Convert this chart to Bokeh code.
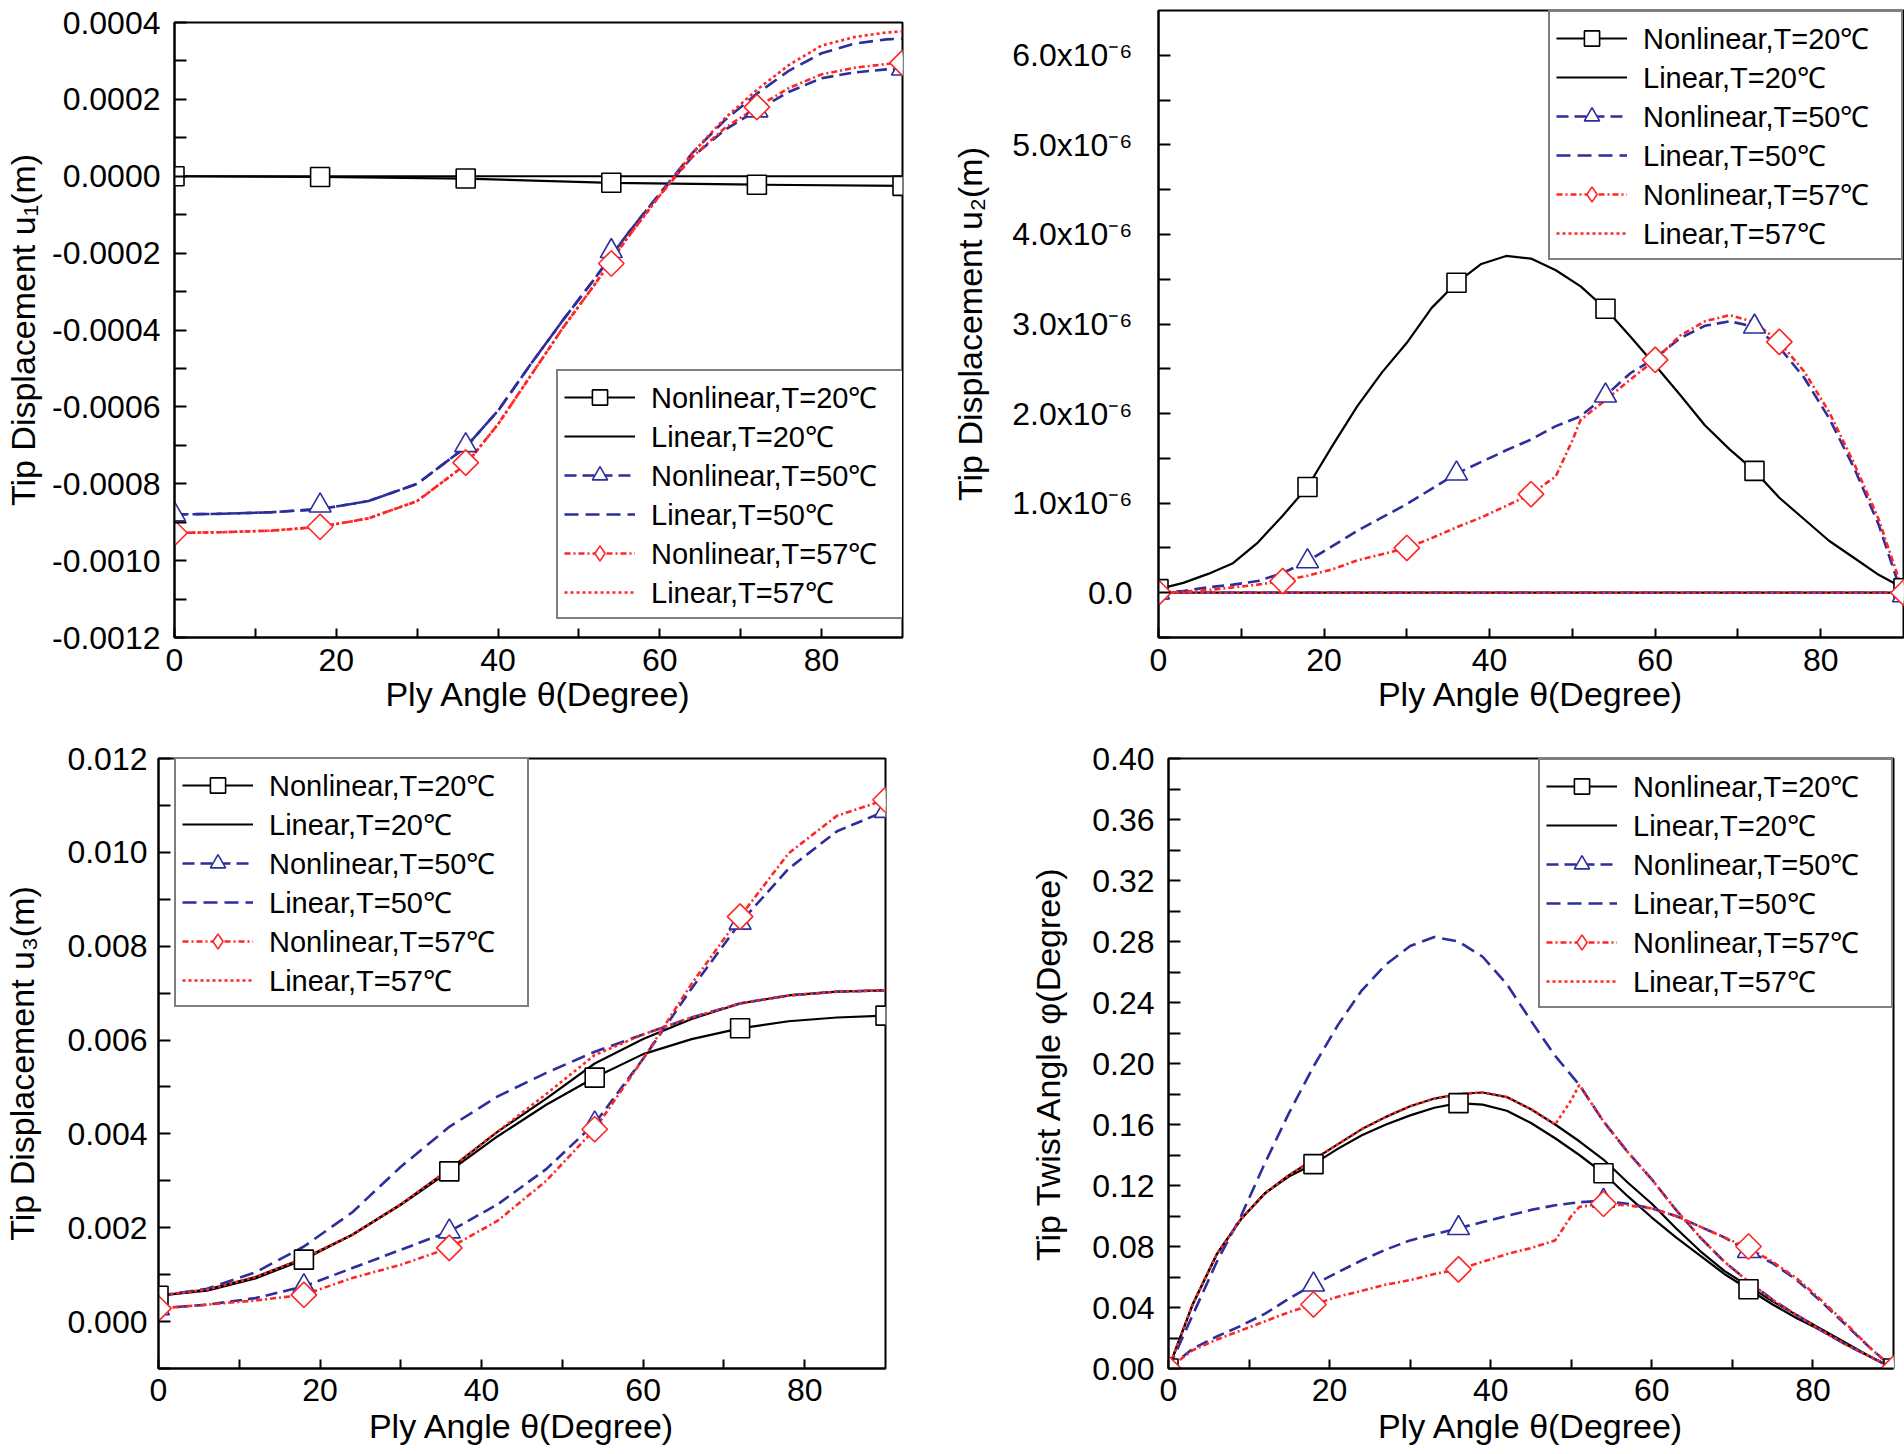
import math
from bokeh.plotting import figure
from bokeh.layouts import row, column
from bokeh.models import (Range1d, FixedTicker, PrintfTickFormatter,
                          CustomJSTickFormatter, Legend, LegendItem)
from bokeh.embed import file_html
from bokeh.resources import INLINE

# ------------------------------------------------------------------ data
series_labels = ["Nonlinear,T=20℃", "Linear,T=20℃", "Nonlinear,T=50℃",
                 "Linear,T=50℃", "Nonlinear,T=57℃", "Linear,T=57℃"]
x_title = "Ply Angle θ(Degree)"
x_ticks = [0, 20, 40, 60, 80]
x_minor_ticks = [10, 30, 50, 70]
theta_markers = [0, 18, 36, 54, 72, 90]
theta_flat = [0, 90]

# Panel 1 : tip displacement u1 (m)
theta_u1 = [0, 6, 12, 18, 24, 30, 36, 40, 44, 48, 52, 56, 60, 64, 68, 72, 76, 80, 84, 88, 90]
u1_linear_20 = [0.0, 0.0]
u1_nonlinear_20 = [0.0, -0.002e-3, -0.006e-3, -0.017e-3, -0.022e-3, -0.025e-3]
u1_linear_50 = [-0.880e-3, -0.878e-3, -0.874e-3, -0.866e-3, -0.845e-3, -0.800e-3, -0.705e-3,
                -0.610e-3, -0.490e-3, -0.375e-3, -0.265e-3, -0.150e-3, -0.045e-3, 0.060e-3,
                0.145e-3, 0.215e-3, 0.275e-3, 0.320e-3, 0.345e-3, 0.356e-3, 0.358e-3]
u1_nonlinear_50 = [-0.880e-3, -0.878e-3, -0.874e-3, -0.866e-3, -0.845e-3, -0.800e-3, -0.705e-3,
                   -0.610e-3, -0.490e-3, -0.375e-3, -0.265e-3, -0.150e-3, -0.045e-3, 0.050e-3,
                   0.120e-3, 0.172e-3, 0.220e-3, 0.255e-3, 0.270e-3, 0.278e-3, 0.280e-3]
u1_linear_57 = [-0.928e-3, -0.926e-3, -0.922e-3, -0.912e-3, -0.890e-3, -0.845e-3, -0.750e-3,
                -0.645e-3, -0.520e-3, -0.395e-3, -0.280e-3, -0.160e-3, -0.050e-3, 0.060e-3,
                0.150e-3, 0.225e-3, 0.290e-3, 0.340e-3, 0.362e-3, 0.374e-3, 0.377e-3]
u1_nonlinear_57 = [-0.928e-3, -0.926e-3, -0.922e-3, -0.912e-3, -0.890e-3, -0.845e-3, -0.750e-3,
                   -0.645e-3, -0.520e-3, -0.395e-3, -0.280e-3, -0.160e-3, -0.050e-3, 0.050e-3,
                   0.125e-3, 0.180e-3, 0.230e-3, 0.265e-3, 0.282e-3, 0.292e-3, 0.295e-3]
u1_marks_20 = [0.0, -0.002e-3, -0.006e-3, -0.017e-3, -0.022e-3, -0.025e-3]
u1_marks_50 = [-0.880e-3, -0.857e-3, -0.700e-3, -0.195e-3, 0.171e-3, 0.280e-3]
u1_marks_57 = [-0.928e-3, -0.912e-3, -0.745e-3, -0.227e-3, 0.180e-3, 0.295e-3]
u1_ticks = [-0.0012, -0.0010, -0.0008, -0.0006, -0.0004, -0.0002, 0.0, 0.0002, 0.0004]
u1_minor = [-0.0011, -0.0009, -0.0007, -0.0005, -0.0003, -0.0001, 0.0001, 0.0003]

# Panel 2 : tip displacement u2 (m)
theta_u2 = [0, 3, 6, 9, 12, 15, 18, 21, 24, 27, 30, 33, 36, 39, 42, 45, 48, 51, 54, 57,
            60, 63, 66, 69, 72, 75, 78, 81, 84, 87, 90]
theta_u2_57 = [0, 3, 6, 9, 12, 15, 18, 21, 24, 27, 30, 33, 36, 39, 42, 45, 48, 50, 51, 54, 57,
               60, 63, 66, 69, 72, 75, 78, 81, 84, 87, 90]
u2_linear_20 = [0.0, 0.0]
u2_linear_50 = [0.0, 0.0]
u2_linear_57 = [0.0, 0.0]
u2_nonlinear_20 = [0.04e-6, 0.11e-6, 0.21e-6, 0.33e-6, 0.56e-6, 0.86e-6, 1.18e-6, 1.64e-6,
                   2.08e-6, 2.46e-6, 2.79e-6, 3.18e-6, 3.46e-6, 3.67e-6, 3.76e-6, 3.73e-6,
                   3.60e-6, 3.42e-6, 3.17e-6, 2.86e-6, 2.54e-6, 2.21e-6, 1.87e-6, 1.60e-6,
                   1.36e-6, 1.06e-6, 0.82e-6, 0.58e-6, 0.39e-6, 0.20e-6, 0.05e-6]
u2_nonlinear_50 = [0.0, 0.02e-6, 0.06e-6, 0.09e-6, 0.13e-6, 0.22e-6, 0.35e-6, 0.52e-6,
                   0.69e-6, 0.84e-6, 0.99e-6, 1.16e-6, 1.33e-6, 1.46e-6, 1.59e-6, 1.71e-6,
                   1.86e-6, 1.97e-6, 2.20e-6, 2.45e-6, 2.62e-6, 2.84e-6, 2.98e-6, 3.03e-6,
                   2.97e-6, 2.74e-6, 2.40e-6, 1.95e-6, 1.40e-6, 0.76e-6, -0.07e-6]
u2_nonlinear_57 = [0.0, 0.01e-6, 0.03e-6, 0.06e-6, 0.09e-6, 0.13e-6, 0.19e-6, 0.26e-6,
                   0.36e-6, 0.43e-6, 0.50e-6, 0.61e-6, 0.73e-6, 0.84e-6, 0.97e-6, 1.10e-6,
                   1.30e-6, 1.70e-6, 1.93e-6, 2.15e-6, 2.38e-6, 2.60e-6, 2.87e-6, 3.03e-6,
                   3.10e-6, 3.02e-6, 2.80e-6, 2.47e-6, 2.02e-6, 1.45e-6, 0.82e-6, 0.0]
theta_u2_marks_57 = [0, 15, 30, 45, 60, 75, 90]
u2_marks_20 = [0.04e-6, 1.18e-6, 3.46e-6, 3.17e-6, 1.36e-6, 0.05e-6]
u2_marks_50 = [0.0, 0.35e-6, 1.33e-6, 2.20e-6, 2.97e-6, -0.03e-6]
u2_marks_57 = [0.0, 0.13e-6, 0.50e-6, 1.10e-6, 2.60e-6, 2.80e-6, 0.0]
u2_ticks = [0.0, 1e-6, 2e-6, 3e-6, 4e-6, 5e-6, 6e-6]
u2_minor = [-0.5e-6, 0.5e-6, 1.5e-6, 2.5e-6, 3.5e-6, 4.5e-6, 5.5e-6]

# Panel 3 : tip displacement u3 (m)
theta_u3 = [0, 6, 12, 18, 24, 30, 36, 42, 48, 54, 60, 66, 72, 78, 84, 90]
u3_linear_20 = [0.55e-3, 0.68e-3, 0.95e-3, 1.35e-3, 1.85e-3, 2.50e-3, 3.25e-3, 4.05e-3,
                4.75e-3, 5.50e-3, 6.02e-3, 6.45e-3, 6.78e-3, 6.95e-3, 7.03e-3, 7.06e-3]
u3_nonlinear_20 = [0.55e-3, 0.66e-3, 0.92e-3, 1.32e-3, 1.85e-3, 2.49e-3, 3.20e-3, 3.95e-3,
                   4.62e-3, 5.20e-3, 5.70e-3, 6.02e-3, 6.25e-3, 6.40e-3, 6.48e-3, 6.52e-3]
u3_linear_50 = [0.55e-3, 0.70e-3, 1.05e-3, 1.60e-3, 2.33e-3, 3.30e-3, 4.15e-3, 4.80e-3,
                5.30e-3, 5.75e-3, 6.12e-3, 6.48e-3, 6.78e-3, 6.95e-3, 7.03e-3, 7.06e-3]
u3_nonlinear_50 = [0.28e-3, 0.36e-3, 0.50e-3, 0.75e-3, 1.14e-3, 1.53e-3, 1.92e-3, 2.50e-3,
                   3.25e-3, 4.22e-3, 5.60e-3, 7.10e-3, 8.50e-3, 9.65e-3, 10.45e-3, 10.88e-3]
u3_linear_57 = [0.55e-3, 0.68e-3, 0.95e-3, 1.35e-3, 1.85e-3, 2.50e-3, 3.25e-3, 4.05e-3,
                4.85e-3, 5.68e-3, 6.12e-3, 6.48e-3, 6.78e-3, 6.95e-3, 7.03e-3, 7.06e-3]
u3_nonlinear_57 = [0.28e-3, 0.36e-3, 0.45e-3, 0.57e-3, 0.93e-3, 1.21e-3, 1.57e-3, 2.15e-3,
                   3.00e-3, 4.10e-3, 5.60e-3, 7.20e-3, 8.63e-3, 9.98e-3, 10.78e-3, 11.12e-3]
u3_marks_20 = [0.55e-3, 1.32e-3, 3.20e-3, 5.20e-3, 6.25e-3, 6.52e-3]
u3_marks_50 = [0.28e-3, 0.75e-3, 1.92e-3, 4.22e-3, 8.50e-3, 10.88e-3]
u3_marks_57 = [0.28e-3, 0.57e-3, 1.57e-3, 4.10e-3, 8.63e-3, 11.12e-3]
u3_ticks = [0.0, 0.002, 0.004, 0.006, 0.008, 0.010, 0.012]
u3_minor = [-0.001, 0.001, 0.003, 0.005, 0.007, 0.009, 0.011]

# Panel 4 : tip twist angle phi (degree)
theta_phi = [0, 3, 6, 9, 12, 15, 18, 21, 24, 27, 30, 33, 36, 39, 42, 45, 48, 51, 54, 57,
             60, 63, 66, 69, 72, 75, 78, 81, 84, 87, 90]
theta_phi_57 = [0, 3, 6, 9, 12, 15, 18, 21, 24, 27, 30, 33, 36, 39, 42, 45, 48, 50, 51, 54, 57,
                60, 63, 66, 69, 72, 75, 78, 81, 84, 87, 90]
phi_linear_20 = [0.0, 0.042, 0.075, 0.098, 0.115, 0.127, 0.137, 0.147, 0.157, 0.165, 0.172,
                 0.177, 0.180, 0.181, 0.178, 0.170, 0.160, 0.149, 0.137, 0.122, 0.108, 0.092,
                 0.077, 0.064, 0.054, 0.044, 0.035, 0.026, 0.017, 0.008, 0.0]
phi_nonlinear_20 = [0.0, 0.042, 0.075, 0.098, 0.115, 0.126, 0.134, 0.144, 0.153, 0.160, 0.166,
                    0.171, 0.174, 0.173, 0.169, 0.161, 0.151, 0.140, 0.128, 0.113, 0.099, 0.086,
                    0.074, 0.062, 0.052, 0.042, 0.033, 0.025, 0.016, 0.008, 0.0]
phi_linear_50 = [0.0, 0.035, 0.070, 0.100, 0.135, 0.168, 0.198, 0.225, 0.248, 0.265, 0.277,
                 0.283, 0.280, 0.270, 0.252, 0.228, 0.205, 0.186, 0.162, 0.142, 0.124, 0.104,
                 0.086, 0.070, 0.057, 0.045, 0.035, 0.025, 0.016, 0.008, 0.0]
phi_nonlinear_50 = [0.0, 0.013, 0.021, 0.028, 0.036, 0.046, 0.055, 0.063, 0.071, 0.078, 0.084,
                    0.088, 0.092, 0.096, 0.100, 0.104, 0.107, 0.109, 0.110, 0.108, 0.105, 0.100,
                    0.093, 0.086, 0.077, 0.069, 0.058, 0.044, 0.029, 0.014, 0.0]
phi_linear_57 = [0.0, 0.042, 0.075, 0.098, 0.115, 0.127, 0.137, 0.147, 0.157, 0.165, 0.172,
                 0.177, 0.180, 0.181, 0.178, 0.170, 0.160, 0.176, 0.186, 0.162, 0.142, 0.124,
                 0.104, 0.086, 0.070, 0.057, 0.045, 0.035, 0.025, 0.016, 0.008, 0.0]
phi_nonlinear_57 = [0.0, 0.012, 0.019, 0.025, 0.031, 0.037, 0.042, 0.047, 0.051, 0.055, 0.058,
                    0.062, 0.065, 0.070, 0.075, 0.079, 0.084, 0.100, 0.106, 0.108, 0.107, 0.105,
                    0.100, 0.093, 0.086, 0.079, 0.070, 0.059, 0.045, 0.030, 0.014, 0.0]
phi_marks_20 = [0.0, 0.134, 0.174, 0.128, 0.052, 0.0]
phi_marks_50 = [0.0, 0.055, 0.092, 0.110, 0.077, 0.0]
phi_marks_57 = [0.0, 0.042, 0.065, 0.108, 0.080, 0.0]
phi_ticks = [0.0, 0.04, 0.08, 0.12, 0.16, 0.20, 0.24, 0.28, 0.32, 0.36, 0.40]
phi_minor = [0.02, 0.06, 0.10, 0.14, 0.18, 0.22, 0.26, 0.30, 0.34, 0.38]

# ------------------------------------------------------------------ style
FONT = "Liberation Sans"
BLACK = "#000000"
BLUE = "#2d2d9b"
RED = "#ff2626"


def make_panel(fw, fh, bl, br, bt, bb, y_rng, yticks, yminor, yformatter, ylabel,
               ytick_standoff, ylabel_standoff, xtick_standoff, xlabel_standoff):
    p = figure(frame_width=fw, frame_height=fh, min_border_left=bl, min_border_right=br,
               min_border_top=bt, min_border_bottom=bb, title=None,
               x_range=Range1d(0, 90), y_range=Range1d(*y_rng),
               output_backend="svg", toolbar_location=None)
    p.xgrid.visible = False
    p.ygrid.visible = False
    p.outline_line_color = "black"
    p.outline_line_width = 2
    p.background_fill_color = "white"
    p.border_fill_color = "white"
    xa = p.xaxis[0]
    ya = p.yaxis[0]
    xa.ticker = FixedTicker(ticks=x_ticks, minor_ticks=x_minor_ticks)
    xa.formatter = PrintfTickFormatter(format="%d")
    ya.ticker = FixedTicker(ticks=yticks, minor_ticks=yminor)
    ya.formatter = yformatter
    for ax, tin in ((xa, 9), (ya, 12)):
        ax.axis_line_width = 2
        ax.axis_line_color = "black"
        ax.major_tick_in = tin
        ax.major_tick_out = 0
        ax.minor_tick_in = tin
        ax.minor_tick_out = 0
        ax.major_tick_line_width = 2
        ax.minor_tick_line_width = 2
        ax.major_label_text_font = FONT
        ax.major_label_text_font_size = "32px"
        ax.major_label_text_color = "black"
        ax.axis_label_text_font = FONT
        ax.axis_label_text_font_size = "34px"
        ax.axis_label_text_font_style = "normal"
        ax.axis_label_text_color = "black"
    xa.axis_label = x_title
    ya.axis_label = ylabel
    ya.major_label_standoff = ytick_standoff
    ya.axis_label_standoff = ylabel_standoff
    xa.major_label_standoff = xtick_standoff
    xa.axis_label_standoff = xlabel_standoff
    return p


def add_series(p, lines, marks, legend_loc):
    # lines: 6 (x, y) pairs in order nl20, lin20, nl50, lin50, nl57, lin57
    # marks: 3 (x, y) pairs for nl20, nl50, nl57
    colors = [BLACK, BLACK, BLUE, BLUE, RED, RED]
    dashes = ["solid", "solid", "12 6", "14 7", "6 3 2 3", "3 3"]
    widths = [2.2, 2.2, 2.6, 2.6, 2.6, 2.6]
    rs = []
    for (x, y), c, d, w in zip(lines, colors, dashes, widths):
        rs.append(p.line(x, y, line_color=c, line_dash=d, line_width=w))
    m20 = p.scatter(marks[0][0], marks[0][1], marker="square", size=19,
                    line_color=BLACK, fill_color="white", line_width=1.6)
    m50 = p.scatter(marks[1][0], marks[1][1], marker="triangle", size=22,
                    line_color=BLUE, fill_color="white", line_width=1.6)
    # legend key for the diamonds (legends never rotate markers); it sits fully
    # underneath the rotated-square diamonds drawn next
    m57_key = p.scatter(marks[2][0], marks[2][1], marker="diamond", size=18,
                        line_color=RED, fill_color="white", line_width=1.6)
    p.scatter(marks[2][0], marks[2][1], marker="square", angle=math.pi / 4, size=18,
              line_color=RED, fill_color="white", line_width=1.6)
    items = [
        LegendItem(label=series_labels[0], renderers=[rs[0], m20]),
        LegendItem(label=series_labels[1], renderers=[rs[1]]),
        LegendItem(label=series_labels[2], renderers=[rs[2], m50]),
        LegendItem(label=series_labels[3], renderers=[rs[3]]),
        LegendItem(label=series_labels[4], renderers=[rs[4], m57_key]),
        LegendItem(label=series_labels[5], renderers=[rs[5]]),
    ]
    leg = Legend(items=items, location=legend_loc, glyph_width=71, glyph_height=38,
                 label_height=38, label_width=252, spacing=0, padding=6, margin=0,
                 label_standoff=16,
                 border_line_color="black", border_line_width=2,
                 background_fill_color="white", background_fill_alpha=1.0,
                 label_text_font=FONT, label_text_font_size="29px",
                 label_text_color="black")
    p.add_layout(leg)


# Panel 1
p1 = make_panel(728, 615, 173, 46, 22, 103, (-0.0012, 0.0004), u1_ticks, u1_minor,
                PrintfTickFormatter(format="%.4f"), "Tip Displacement u₁(m)",
                14, 7, 11, 1)
add_series(p1,
           [(theta_markers, u1_nonlinear_20), (theta_flat, u1_linear_20),
            (theta_u1, u1_nonlinear_50), (theta_u1, u1_linear_50),
            (theta_u1, u1_nonlinear_57), (theta_u1, u1_linear_57)],
           [(theta_markers, u1_marks_20), (theta_markers, u1_marks_50),
            (theta_markers, u1_marks_57)],
           (382, 18))

# Panel 2
u2_fmt = CustomJSTickFormatter(code="""
if (Math.abs(tick) < 1e-12) { return "0.0"; }
return (tick * 1e6).toFixed(1) + "x10\u207b\u2076";
""")
p2 = make_panel(745, 627, 205, 5, 10, 103, (-0.5e-6, 6.5e-6), u2_ticks, u2_minor,
                u2_fmt, "Tip Displacement u₂(m)", 26, 20, 11, 1)
add_series(p2,
           [(theta_u2, u2_nonlinear_20), (theta_flat, u2_linear_20),
            (theta_u2, u2_nonlinear_50), (theta_flat, u2_linear_50),
            (theta_u2_57, u2_nonlinear_57), (theta_flat, u2_linear_57)],
           [(theta_markers, u2_marks_20), (theta_markers, u2_marks_50),
            (theta_u2_marks_57, u2_marks_57)],
           "top_right")

# Panel 3
p3 = make_panel(727, 610, 157, 141, 18, 84, (-0.001, 0.012), u3_ticks, u3_minor,
                PrintfTickFormatter(format="%.3f"), "Tip Displacement u₃(m)",
                11, 23, 10, 3)
add_series(p3,
           [(theta_u3, u3_nonlinear_20), (theta_u3, u3_linear_20),
            (theta_u3, u3_nonlinear_50), (theta_u3, u3_linear_50),
            (theta_u3, u3_nonlinear_57), (theta_u3, u3_linear_57)],
           [(theta_markers, u3_marks_20), (theta_markers, u3_marks_50),
            (theta_markers, u3_marks_57)],
           (16, 361))

# Panel 4
p4 = make_panel(725, 610, 140, 5, 18, 84, (0.0, 0.40), phi_ticks, phi_minor,
                PrintfTickFormatter(format="%.2f"), "Tip Twist Angle φ(Degree)",
                14, 22, 10, 3)
add_series(p4,
           [(theta_phi, phi_nonlinear_20), (theta_phi, phi_linear_20),
            (theta_phi, phi_nonlinear_50), (theta_phi, phi_linear_50),
            (theta_phi_57, phi_nonlinear_57), (theta_phi_57, phi_linear_57)],
           [(theta_markers, phi_marks_20), (theta_markers, phi_marks_50),
            (theta_markers, phi_marks_57)],
           "top_right")

layout = column(row(column(p1), column(p2), spacing=0),
                row(column(p3), column(p4), spacing=0), spacing=0)
open("out.html", "w").write(file_html(layout, INLINE))
